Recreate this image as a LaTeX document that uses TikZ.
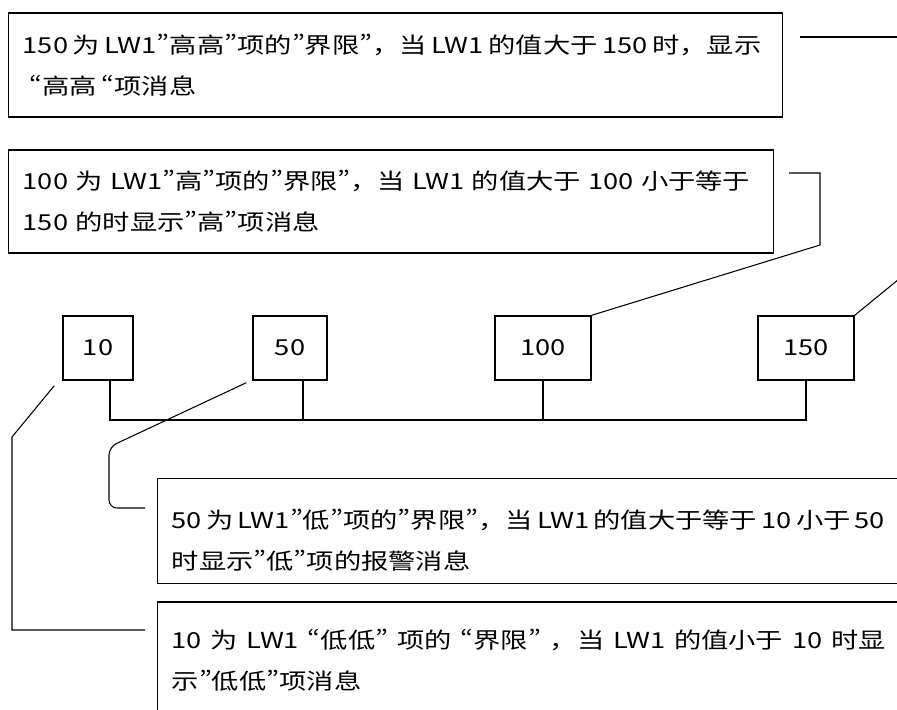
\documentclass[tikz,border=0pt]{standalone}
\usepackage{fontspec}
\setmainfont{Noto Sans CJK SC}
\newfontfamily\notecjk{Noto Sans CJK SC}[FakeStretch=1.24, RawFeature={+pwid}]
\newfontfamily\notefw{Noto Sans CJK SC}[FakeStretch=1.24]
\usetikzlibrary{positioning}
\newcommand{\notefont}{\notecjk\fontsize{16.5pt}{30.75pt}\selectfont}
\newcommand{\fwcomma}{{\notefw ，}}
\tikzset{
  notebox/.style={draw, line width=1.1pt, align=left, anchor=west,
    inner xsep=10.5pt, font=\notefont},
  wordgap/.style={execute at begin node={\spaceskip=#1\relax}},
  valbox/.style={draw, line width=1.1pt, font=\notecjk\fontsize{16.5pt}{18pt}\selectfont},
  link/.style={line width=0.8pt},
}

\begin{document}
\begin{tikzpicture}[x=0.75pt, y=-0.75pt]
  \useasboundingbox (0,0) rectangle (897,710);
  \clip (0,0) rectangle (897,710);
  % limit notes
  \node[notebox, wordgap=3.5pt, text width=559.5pt, minimum height=78pt] (hihi) at (8,65)
    {150 为 LW1”高高”项的”界限”\fwcomma 当 LW1 的值大于 150 时\fwcomma 显示\\\hspace{5pt}“高高 “项消息};
  \node[notebox, text width=552.75pt, minimum height=77.25pt] (hi) at (8,201.5)
    {100 为 LW1”高”项的”界限”\fwcomma 当 LW1 的值大于 100 小于等于\\150 的时显示”高”项消息};
  \node[notebox, wordgap=3.2pt, text width=611.25pt, minimum height=78.75pt] (lo) at (157,531)
    {\rule{0pt}{28pt}50 为 LW1”低”项的”界限”\fwcomma 当 LW1 的值大于等于 10 小于 50\\时显示”低”项的报警消息};
  \node[notebox, wordgap=6.6pt, text width=611.25pt, minimum height=87pt] (lolo) at (157,660)
    {10 为 LW1 “低低” 项的 “界限” \fwcomma 当 LW1 的值小于 10 时显\\示”低低”项消息};
  % values
  \node[valbox, minimum width=52.5pt, minimum height=48pt] (v10) at (98,348) {10};
  \node[valbox, minimum width=55.5pt, minimum height=48pt] (v50) at (290,348) {50};
  \node[valbox, minimum width=72pt, minimum height=48pt] (v100) at (543,348) {100};
  \node[valbox, minimum width=72pt, minimum height=48pt] (v150) at (806,348) {150};
  % bus
  \coordinate (bus) at (0,420);
  \draw[link] ([xshift=9pt]v10.south) -- ([xshift=9pt]v10.south |- bus) -| (v150.south);
  \draw[link] ([xshift=9.75pt]v50.south) -- ([xshift=9.75pt]v50.south |- bus);
  \draw[link] (v100.south) -- (v100.south |- bus);
  % leader lines
  \coordinate (hihistart) at (800,37);
  \coordinate (hihiend) at (910,37);
  \coordinate (histart) at (789,173);
  \coordinate (v150end) at (915,266);
  \coordinate (loend) at (145,508);
  \coordinate (loloend) at (145,630);
  \draw[link] (hihistart) -- (hihiend);
  \draw[link] (v150.north east) -- (v150end);
  \draw[link] (histart) -- (820,173) -- (820,245) -- (v100.north east);
  \draw[link, rounded corners=6pt] ([xshift=-4.5pt,yshift=-1.5pt]v50.south west)
    -- (109,447) -- (109,508) -- (loend);
  \draw[link] ([xshift=-6pt,yshift=-3.75pt]v10.south west) -- (12,437) -- (12,630) -- (loloend);
\end{tikzpicture}
\end{document}
